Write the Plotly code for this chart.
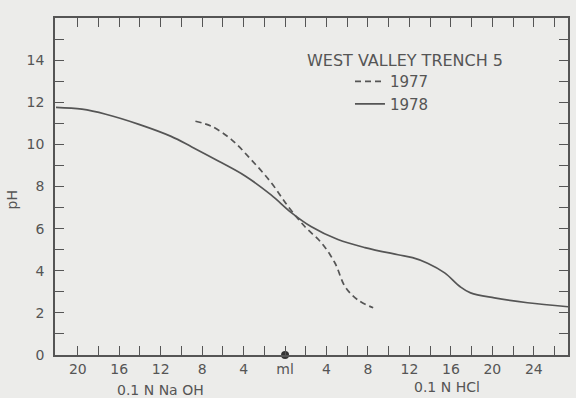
import plotly.graph_objects as go

# 1978 titration curve (negative ml = 0.1 N NaOH, positive ml = 0.1 N HCl)
ml_1978 = [-22.1, -19.6, -17.3, -14.1, -11.0, -9.0, -6.4, -3.85, -1.35, 0.6, 2.5, 5.1, 7.7, 10.9, 12.3, 13.75, 15.4, 16.9, 17.9, 20.2, 23.4, 27.3]
ph_1978 = [11.76, 11.67, 11.43, 10.95, 10.38, 9.88, 9.2, 8.5, 7.6, 6.76, 6.1, 5.48, 5.1, 4.76, 4.62, 4.36, 3.9, 3.24, 2.95, 2.71, 2.48, 2.29]

# 1977 titration curve
ml_1977 = [-8.65, -7.1, -5.2, -3.3, -1.35, 0.3, 1.9, 3.5, 4.8, 5.8, 7.0, 8.5]
ph_1977 = [11.1, 10.86, 10.24, 9.29, 8.19, 7.05, 6.1, 5.33, 4.38, 3.24, 2.62, 2.24]

# origin marker (0 ml)
origin_ml = [0]
origin_ph = [0]

x_tickvals = list(range(-20, 27, 2))
x_ticktext = []
for v in x_tickvals:
    if v == 0:
        x_ticktext.append("ml")
    elif v % 4 == 0 and abs(v) <= 24:
        x_ticktext.append(str(abs(v)))
    else:
        x_ticktext.append("")

y_tickvals = list(range(0, 16))
y_ticktext = [str(v) if v % 2 == 0 else "" for v in y_tickvals]

INK = "#555555"
BG = "#ececea"
FONT = "DejaVu Sans"

fig = go.Figure()
fig.add_trace(go.Scatter(x=ml_1977, y=ph_1977, mode="lines", name="1977",
                         line=dict(color=INK, width=1.7, dash="6px,4px", shape="spline", smoothing=1.0)))
fig.add_trace(go.Scatter(x=ml_1978, y=ph_1978, mode="lines", name="1978",
                         line=dict(color=INK, width=1.7, shape="spline", smoothing=1.0)))
fig.add_trace(go.Scatter(x=origin_ml, y=origin_ph, mode="markers", showlegend=False,
                         marker=dict(color="#333", size=8), cliponaxis=False))

axis_common = dict(showgrid=False, zeroline=False, showline=True, linecolor=INK, linewidth=1.5,
                   ticks="inside", ticklen=9, tickwidth=1.3, tickcolor=INK, mirror="ticks",
                   tickfont=dict(family=FONT, size=14, color=INK))

fig.update_layout(
    width=576, height=398,
    margin=dict(l=55, r=6, t=18, b=43),
    paper_bgcolor=BG, plot_bgcolor=BG,
    font=dict(family=FONT, color=INK),
    showlegend=True,
    legend=dict(x=0.575, y=0.86, xanchor="left", yanchor="top", bgcolor="rgba(0,0,0,0)",
                font=dict(family=FONT, size=15, color=INK), tracegroupgap=0, itemwidth=30),
    xaxis=dict(range=[-22.2, 27.3], tickmode="array", tickvals=x_tickvals, ticktext=x_ticktext, **axis_common),
    yaxis=dict(range=[0, 16], tickmode="array", tickvals=y_tickvals, ticktext=y_ticktext,
               ticklabelstandoff=6, **axis_common),
    annotations=[
        dict(text="WEST VALLEY TRENCH 5", xref="paper", yref="paper", x=0.683, y=0.873,
             xanchor="center", yanchor="middle", showarrow=False,
             font=dict(family=FONT, size=16, color=INK)),
        dict(text="pH", xref="paper", yref="paper", x=-0.083, y=0.46, textangle=-90,
             xanchor="center", yanchor="middle", showarrow=False,
             font=dict(family=FONT, size=14, color=INK)),
        dict(text="0.1 N Na OH", xref="x", yref="paper", x=-12, y=-0.104,
             xanchor="center", yanchor="middle", showarrow=False,
             font=dict(family=FONT, size=14, color=INK)),
        dict(text="0.1 N HCl", xref="x", yref="paper", x=15.6, y=-0.096,
             xanchor="center", yanchor="middle", showarrow=False,
             font=dict(family=FONT, size=14, color=INK)),
    ],
)

fig.write_html("out.html")
